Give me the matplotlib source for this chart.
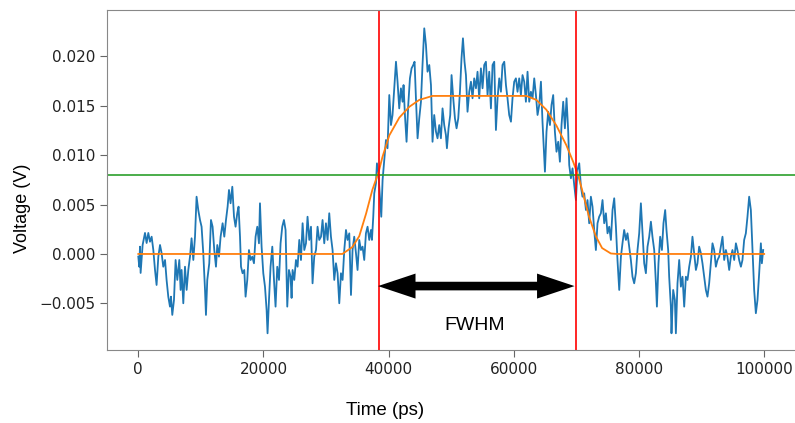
# Pulse trace with flat-top fit and FWHM markers

import numpy as np
import matplotlib
matplotlib.use('Agg')
import matplotlib.pyplot as plt

# measured trace: time (ps) and voltage (mV)
time_ps = [
    0, 150, 270, 370, 690, 1070, 1330, 1600, 1870, 2130, 2400, 2670, 2920, 3200, 3470,
    3720, 3990, 4270, 4520, 4790, 5060, 5220, 5430, 5700, 5960, 6230, 6550, 6760, 6920,
    7190, 7460, 7720, 7990, 8260, 8510, 8790, 9060, 9310, 9580, 9860, 10110, 10380,
    10660, 10810, 11020, 11340, 11610, 11870, 12140, 12410, 12620, 12890, 13150, 13470,
    13740, 14010, 14270, 14490, 14740, 15020, 15290, 15540, 15810, 16020, 16250, 16410,
    16660, 16930, 17140, 17410, 17680, 17940, 18210, 18480, 18740, 19010, 19280, 19440,
    19700, 19970, 20240, 20500, 20650, 20880, 21130, 21410, 21680, 21930, 22200, 22480,
    22730, 23000, 23270, 23530, 23800, 24070, 24330, 24490, 24650, 24920, 25190, 25450,
    25720, 25990, 26250, 26520, 26790, 27040, 27320, 27590, 27840, 28110, 28390, 28640,
    28910, 29190, 29440, 29710, 29980, 30240, 30510, 30780, 31040, 31310, 31580, 31840,
    32110, 32380, 32640, 32910, 33180, 33430, 33710, 33980, 34230, 34500, 34780, 35030,
    35300, 35570, 35830, 36100, 36370, 36630, 36900, 37170, 37330, 37540, 37700, 37970,
    38130, 38390, 38610, 38820, 39030, 39300, 39570, 39820, 40100, 40370, 40620, 40890,
    41170, 41420, 41690, 41960, 42220, 42380, 42600, 42860, 43130, 43400, 43660, 43930,
    44140, 44360, 44620, 44890, 45160, 45410, 45690, 45960, 46210, 46490, 46760, 47010,
    47280, 47560, 47810, 48080, 48350, 48610, 48880, 49150, 49310, 49570, 49840, 50050,
    50320, 50590, 50850, 51120, 51390, 51640, 51870, 52120, 52350, 52600, 52880, 53150,
    53400, 53670, 53950, 54200, 54470, 54740, 55000, 55270, 55540, 55800, 56070, 56340,
    56600, 56870, 57140, 57400, 57670, 57940, 58190, 58470, 58740, 58990, 59260, 59540,
    59790, 60060, 60330, 60590, 60860, 61130, 61390, 61660, 61930, 62190, 62460, 62730,
    62990, 63260, 63530, 63790, 64060, 64330, 64580, 64740, 64970, 65220, 65490, 65770,
    66020, 66290, 66560, 66820, 67090, 67360, 67620, 67890, 68160, 68420, 68690, 68850,
    69120, 69380, 69650, 69920, 70170, 70450, 70720, 70970, 71240, 71520, 71770, 72040,
    72310, 72570, 72840, 73110, 73370, 73640, 73910, 74170, 74440, 74710, 74970, 75240,
    75510, 75770, 76040, 76310, 76560, 76840, 77110, 77360, 77630, 77910, 78160, 78430,
    78700, 78960, 79230, 79500, 79760, 80030, 80300, 80560, 80830, 81100, 81360, 81630,
    81900, 82150, 82430, 82700, 82860, 83110, 83380, 83660, 83910, 84180, 84390, 84660,
    84820, 85090, 85190, 85460, 85730, 85890, 86150, 86420, 86690, 86950, 87220, 87490,
    87750, 88020, 88290, 88540, 88820, 89090, 89340, 89610, 89890, 90140, 90410, 90680,
    90940, 91210, 91480, 91740, 92010, 92280, 92540, 92810, 93080, 93340, 93610, 93880,
    94130, 94410, 94680, 94930, 95210, 95480, 95730, 96000, 96280, 96530, 96800, 97070,
    97330, 97600, 97870, 98130, 98400, 98670, 98930, 99200, 99470, 99630, 99840,
]
volt_mv = [
    -0.27, -1.29, 0.74, -1.92, 0.91, 2.13, 1.11, 2.13, 1.24, 1.75, 0.40, -1.62, -3.14,
    -0.27, 0.91, 0.10, -1.29, -0.61, -2.63, -4.32, -5.33, -4.32, -6.17, -4.66, -0.61,
    -2.63, -0.61, -3.64, -1.62, -4.99, -1.29, -3.64, -1.62, -0.27, 1.59, -0.61, 1.75,
    5.80, 4.45, 3.44, 2.76, 0.10, -3.64, -6.17, -2.63, -0.94, 3.44, 2.76, 0.40, -1.29,
    0.91, -0.27, 1.75, 3.11, 1.75, 3.44, 4.79, 6.48, 5.13, 6.81, 3.77, 2.76, 4.12, 4.79,
    1.75, -1.29, -1.95, -1.62, -4.32, -2.63, 0.40, -0.61, -0.27, -0.94, 1.75, 2.76, 1.08,
    5.13, 0.74, -1.95, -3.31, -5.67, -8.03, -4.66, -1.29, 0.74, -2.63, -5.33, -1.29,
    -2.63, 1.08, 2.76, 3.44, 2.43, -5.33, -1.62, -2.30, -4.45, -1.62, -2.63, -0.61,
    -1.29, 1.42, -0.61, 3.11, 0.40, 1.08, 3.77, 1.42, 2.76, -2.97, -0.27, 0.40, 2.76,
    1.42, 1.75, 3.44, 1.08, 3.11, 1.42, 4.12, 1.75, 0.40, -2.63, -0.94, -1.95, -4.99,
    -1.95, -2.63, 0.40, 2.43, 1.42, 2.09, -4.15, 0.40, 1.75, 0.07, -1.62, 1.42, 0.40,
    0.74, -0.61, 2.09, 2.76, 1.42, 2.43, 1.42, 3.77, 6.14, 7.15, 9.18, 7.82, 5.80, 3.77,
    7.49, 9.51, 11.54, 10.70, 16.09, 13.05, 14.07, 16.77, 19.46, 17.44, 14.74, 16.77,
    15.41, 17.10, 14.07, 11.36, 15.08, 17.78, 18.79, 19.13, 19.46, 15.76, 11.71, 13.73,
    15.41, 19.13, 22.84, 21.15, 18.45, 19.13, 17.10, 11.36, 14.07, 12.38, 11.71, 13.05,
    11.71, 14.74, 13.05, 12.04, 10.70, 12.72, 14.07, 18.11, 15.76, 13.73, 12.72, 13.73,
    16.42, 19.80, 21.83, 19.46, 18.11, 14.40, 16.42, 17.44, 15.76, 17.78, 16.77, 18.45,
    15.76, 18.79, 16.77, 19.13, 19.46, 16.09, 18.45, 14.74, 19.13, 19.46, 12.55, 15.76,
    17.78, 16.42, 19.13, 19.46, 17.10, 15.76, 14.07, 13.39, 15.76, 17.44, 17.78, 16.42,
    17.78, 16.09, 18.11, 17.44, 15.41, 18.45, 15.41, 16.42, 15.76, 17.78, 16.09, 14.07,
    15.08, 17.44, 13.39, 11.36, 8.33, 12.38, 14.40, 13.05, 15.08, 16.09, 12.38, 10.35,
    11.36, 9.34, 13.05, 15.41, 12.72, 15.76, 12.38, 9.01, 7.66, 8.67, 6.98, 5.46, 8.50,
    9.18, 6.81, 5.80, 6.14, 4.45, 5.46, 3.11, 5.80, 4.79, 2.43, 0.40, 3.11, 3.77, 4.12,
    5.46, 3.11, 4.12, 2.09, 2.76, 1.42, 4.45, 5.64, 2.76, -0.61, -3.64, -0.27, 1.08,
    2.43, 1.42, 2.09, 0.74, -0.61, -2.30, -2.97, -1.95, 0.40, 2.09, 5.13, 2.09, -0.94,
    -1.95, 0.74, 1.75, 3.27, 1.75, 0.40, -2.97, -5.33, -0.94, 1.75, 0.40, 3.11, 4.45,
    2.43, 0.40, -2.30, -5.33, -8.03, -3.64, -4.66, -8.03, -2.97, -0.61, -3.31, -2.30,
    -5.33, -2.30, -2.63, -1.29, -0.27, 1.75, 0.07, -1.62, -0.94, 0.74, 0.07, -0.94,
    -2.30, -3.64, -4.32, -2.97, -0.94, 1.08, 0.40, -1.29, -0.61, -0.27, 0.74, 1.75,
    -0.61, 0.40, -0.27, -1.62, -0.27, 0.40, -0.61, 1.08, 0.40, -0.61, -1.29, -0.61,
    1.42, 2.09, 3.77, 5.80, 4.45, 0.40, -3.64, -6.00, -4.66, -1.95, 1.08, -0.94, 0.40,
]

# flat-top fit
fit_time_ps = [0, 32600, 34200, 35300, 36400, 37400, 38400, 39000, 39600, 40100, 41700,
               43300, 44900, 47000, 62000, 63600, 65200, 66800, 68400, 69500, 70300,
               70900, 72000, 73100, 74100, 75500, 76500, 100000]
fit_volt_mv = [0, 0, 0.7, 1.8, 4.1, 6.5, 8.3, 9.8, 11.0, 12.0, 13.8, 14.9, 15.6, 16.0,
               16.0, 15.6, 14.6, 13.0, 11.0, 9.3, 7.9, 6.5, 3.8, 1.8, 0.6, 0.05, 0, 0]

half_max = 0.008             # V
fwhm_edges = [38400, 70000]  # ps

t = np.array(time_ps)
v = np.array(volt_mv) / 1000.0
ft = np.array(fit_time_ps)
fv = np.array(fit_volt_mv) / 1000.0

fig = plt.figure(figsize=(7.95, 4.23), dpi=100)
ax = fig.add_axes([0.1346, 0.1726, 0.866, 0.8038])

ax.plot(t, v, color='#1f77b4', lw=1.3)
ax.plot(ft, fv, color='#ff7f0e', lw=1.3)
ax.axhline(half_max, color='#2ca02c', lw=1.2)
for x in fwhm_edges:
    ax.axvline(x, color='#ff0000', lw=1.2)

# double arrow between the edges: shaft plus two filled heads
arrow_y = -0.00325
left_tip, right_tip = fwhm_edges[0] - 100, fwhm_edges[1] - 300
mid = 0.5 * (left_tip + right_tip)
ax.plot([left_tip + 4000, right_tip - 4000], [arrow_y, arrow_y], color='black',
        lw=6, solid_capstyle='butt')
for end in (left_tip, right_tip):
    ax.annotate('', xy=(end, arrow_y), xytext=(mid, arrow_y),
                arrowprops=dict(arrowstyle='simple,head_length=1.35,head_width=0.9,tail_width=0.3',
                                fc='black', ec='none', lw=0, mutation_scale=20,
                                shrinkA=0, shrinkB=0))
ax.text(53700, -0.0072, 'FWHM', ha='center', va='center',
        fontsize=14, family='Liberation Sans')

ax.set_xlim(-5000, 105000)
ax.set_ylim(-0.00972, 0.0247)
ax.set_xticks([0, 20000, 40000, 60000, 80000, 100000])
ax.set_yticks([-0.005, 0.0, 0.005, 0.010, 0.015, 0.020])
ax.yaxis.set_major_formatter(matplotlib.ticker.FuncFormatter(
    lambda y, p: ('%.3f' % y).replace('-', '\u2212')))
ax.tick_params(labelsize=11, labelcolor='#222222', color='#666666', length=5)
for s in ax.spines.values():
    s.set_color('#888888')
ax.spines['right'].set_visible(False)

fig.text(0.028, 1 - 208 / 423, 'Voltage (V)', rotation=90, ha='center', va='center',
         fontsize=13, family='Liberation Sans')
fig.text(385 / 795, 1 - 410 / 423, 'Time (ps)', ha='center', va='center',
         fontsize=13.5, family='Liberation Sans')

fig.savefig('out.png', dpi=100)
